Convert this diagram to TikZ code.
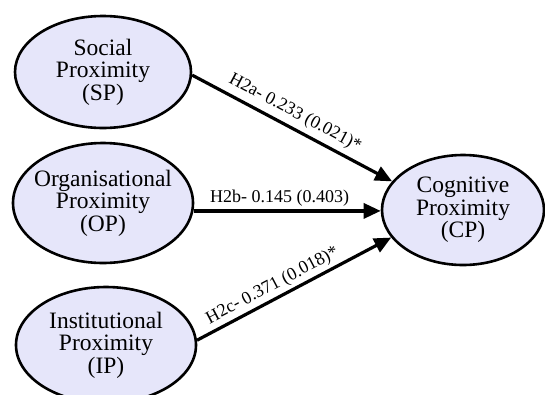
\documentclass[tikz,border=0pt]{standalone}
\usepackage{fontspec}
\setmainfont{Liberation Serif}
\usetikzlibrary{shapes.geometric,arrows.meta}
\definecolor{lav}{RGB}{230,230,250}
\tikzset{
  ell/.style={ellipse, draw=black, line width=2.6pt, fill=lav, inner sep=0pt},
  txt/.style={align=center, font=\fontsize{23.5}{22.5}\selectfont, inner sep=0pt},
  arr/.style={line width=3.2pt, -{Triangle[length=17pt,width=15pt]}},
  lbl/.style={font=\fontsize{18}{19}\selectfont, inner sep=1pt}
}
\begin{document}
\begin{tikzpicture}[x=1pt,y=-1pt]
\useasboundingbox (0,0) rectangle (545,394);
\node[ell, minimum width=176pt, minimum height=112pt] (SP) at (103,72) {};
\node[ell, minimum width=180pt, minimum height=120pt] (OP) at (103,203) {};
\node[ell, minimum width=180pt, minimum height=116pt] (IP) at (106,345) {};
\node[ell, minimum width=162pt, minimum height=110pt] (CP) at (463,210) {};
\node[txt] (SPt) at (SP) {Social\\Proximity\\(SP)};
\node[txt] (OPt) at (OP) {Organisational\\Proximity\\(OP)};
\node[txt] (IPt) at (IP) {Institutional\\Proximity\\(IP)};
\node[txt] (CPt) at (CP) {Cognitive\\Proximity\\(CP)};
\draw[arr] (SP.-2) -- node[lbl, pos=0.48, above=4pt, sloped] (L1) {H2a- 0.233 (0.021)*} (CP.158);
\draw[arr] (OP.-5) -- node[lbl, pos=0.46, above=2pt] (L2) {H2b- 0.145 (0.403)} (OP.-5 -| CP.west);
\draw[arr] (IP.3) -- node[lbl, pos=0.42, above=2pt, sloped] (L3) {H2c- 0.371 (0.018)*} (CP.201);
\end{tikzpicture}
\end{document}
